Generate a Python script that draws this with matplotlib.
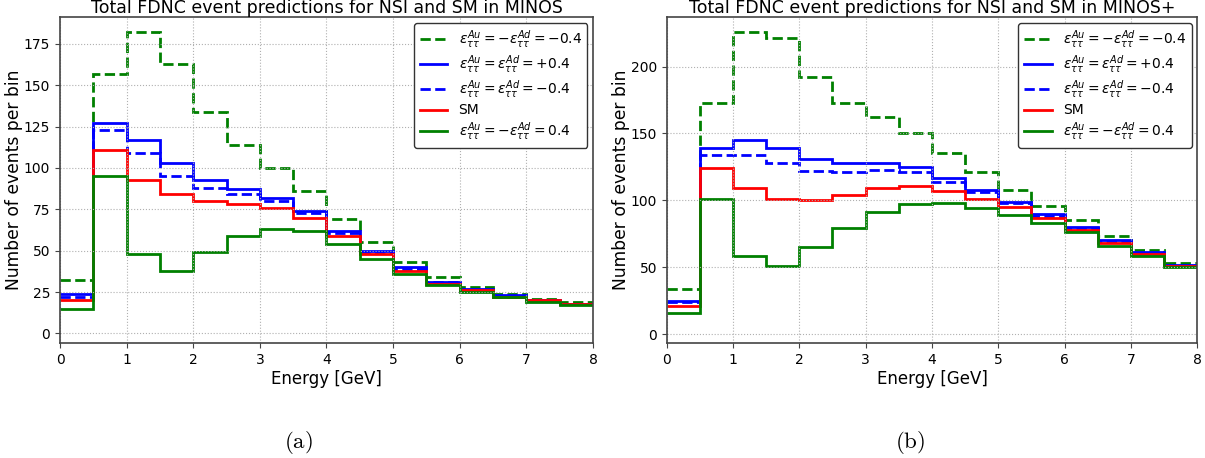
import numpy as np
import matplotlib
matplotlib.use("Agg")
import matplotlib.pyplot as plt

# Energy bins [GeV]
edges = np.arange(0, 8.5, 0.5)

# MINOS predictions (events per bin)
minos_neg_opp = [32, 157, 182, 163, 134, 114, 100, 86, 69, 55, 43, 34, 28, 24, 21, 19]
minos_pos_same = [24, 127, 117, 103, 93, 87, 82, 74, 62, 50, 40, 31, 27, 23, 20, 18]
minos_neg_same = [22, 123, 109, 95, 88, 84, 80, 73, 61, 49, 39, 31, 26, 22, 20, 18]
minos_sm = [20, 111, 93, 84, 80, 78, 76, 70, 59, 48, 38, 30, 26, 22, 20, 18]
minos_pos_opp = [15, 95, 48, 38, 49, 59, 63, 62, 54, 45, 36, 29, 25, 22, 19, 17]

# MINOS+ predictions (events per bin)
mplus_neg_opp = [34, 173, 226, 221, 192, 173, 162, 150, 135, 121, 108, 96, 85, 73, 63, 53]
mplus_pos_same = [25, 139, 145, 139, 131, 128, 128, 125, 117, 108, 99, 90, 80, 70, 61, 52]
mplus_neg_same = [24, 134, 134, 128, 122, 121, 123, 121, 114, 106, 98, 88, 79, 69, 60, 51]
mplus_sm = [21, 124, 109, 101, 100, 104, 109, 111, 107, 101, 95, 87, 78, 68, 60, 51]
mplus_pos_opp = [16, 101, 58, 51, 65, 79, 91, 97, 98, 94, 89, 83, 76, 66, 58, 50]

labels = [
    r'$\varepsilon_{\tau\tau}^{Au} = -\varepsilon_{\tau\tau}^{Ad} = -0.4$',
    r'$\varepsilon_{\tau\tau}^{Au} = \varepsilon_{\tau\tau}^{Ad} = +0.4$',
    r'$\varepsilon_{\tau\tau}^{Au} = \varepsilon_{\tau\tau}^{Ad} = -0.4$',
    'SM',
    r'$\varepsilon_{\tau\tau}^{Au} = -\varepsilon_{\tau\tau}^{Ad} = 0.4$',
]
colors = ['green', 'blue', 'blue', 'red', 'green']
styles = ['--', '-', '--', '-', '-']

fig = plt.figure(figsize=(12.05, 4.58), dpi=100)
ax1 = fig.add_axes([0.0498, 0.251, 0.4423, 0.711])
ax2 = fig.add_axes([0.5533, 0.251, 0.4402, 0.711])


def draw(ax, series, title, ylim, ylab_x):
    for vals, c, ls, lab in zip(series, colors, styles, labels):
        ax.stairs(vals, edges, baseline=None, color=c, linestyle=ls, linewidth=2, label=lab)
    ax.set_xlim(0, 8)
    ax.set_ylim(*ylim)
    ax.set_title(title, fontsize=12.5, pad=3)
    ax.set_xlabel('Energy [GeV]', fontsize=12, labelpad=2)
    ax.set_ylabel('Number of events per bin', fontsize=12.3)
    ax.yaxis.set_label_coords(ylab_x, 0.5)
    ax.tick_params(labelsize=10, color='#444444')
    ax.grid(True, linestyle=':', color='#b0b0b0', linewidth=0.8)
    for s in ax.spines.values():
        s.set_color('#444444')
        s.set_linewidth(1.2)
    ax.legend(loc='upper right', fontsize=10, framealpha=1, edgecolor='#333333',
              labelspacing=0.22, borderaxespad=0.4)


draw(ax1, [minos_neg_opp, minos_pos_same, minos_neg_same, minos_sm, minos_pos_opp],
     'Total FDNC event predictions for NSI and SM in MINOS', (-5.8, 191), -0.069)
draw(ax2, [mplus_neg_opp, mplus_pos_same, mplus_neg_same, mplus_sm, mplus_pos_opp],
     'Total FDNC event predictions for NSI and SM in MINOS+', (-6.7, 236.7), -0.07)

fig.text(0.248, 0.033, r'$\mathrm{(a)}$', fontsize=16.5, math_fontfamily='cm',
         ha='center', va='center')
fig.text(0.755, 0.033, r'$\mathrm{(b)}$', fontsize=16.5, math_fontfamily='cm',
         ha='center', va='center')

fig.savefig('out.png', dpi=100)
